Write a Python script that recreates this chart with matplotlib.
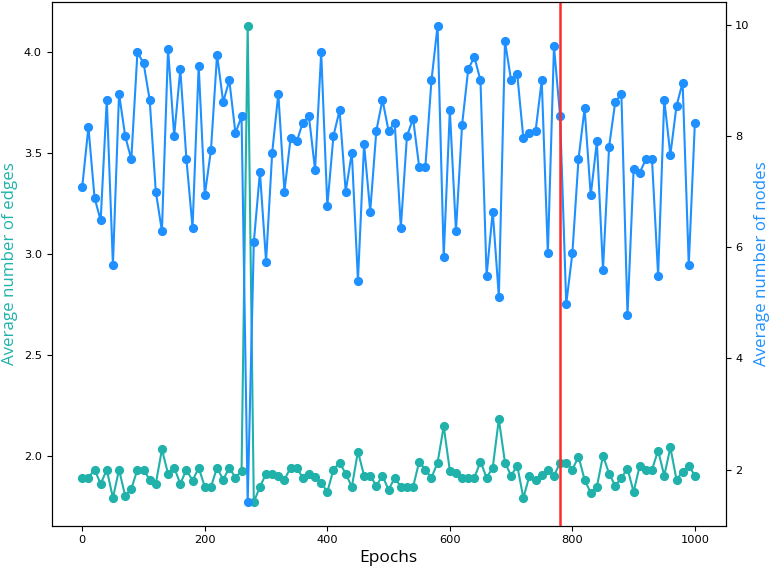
import matplotlib
matplotlib.use("Agg")
import matplotlib.pyplot as plt
import numpy as np

epochs = np.arange(0, 1001, 10)

avg_edges = [
    1.89, 1.89, 1.93, 1.86, 1.93, 1.79, 1.93, 1.80, 1.835, 1.93,
    1.93, 1.88, 1.86, 2.03, 1.91, 1.94, 1.86, 1.93, 1.875, 1.94,
    1.845, 1.845, 1.94, 1.88, 1.94, 1.89, 1.925, 4.13, 1.77, 1.845,
    1.91, 1.91, 1.90, 1.88, 1.94, 1.94, 1.89, 1.91, 1.895, 1.865,
    1.82, 1.93, 1.965, 1.91, 1.845, 2.02, 1.90, 1.90, 1.85, 1.90,
    1.83, 1.89, 1.845, 1.845, 1.845, 1.97, 1.93, 1.89, 1.965, 2.145,
    1.925, 1.915, 1.89, 1.89, 1.89, 1.97, 1.89, 1.94, 2.18, 1.965,
    1.90, 1.95, 1.79, 1.90, 1.88, 1.905, 1.93, 1.90, 1.965, 1.965,
    1.93, 1.995, 1.88, 1.815, 1.845, 2.00, 1.91, 1.85, 1.89, 1.935,
    1.82, 1.95, 1.93, 1.93, 2.025, 1.90, 2.04, 1.88, 1.92, 1.95,
    1.90,
]

avg_nodes = [
    7.09, 8.16, 6.89, 6.48, 8.65, 5.68, 8.76, 8.00, 7.58, 9.50,
    9.31, 8.65, 7.00, 6.29, 9.57, 8.00, 9.20, 7.58, 6.35, 9.26,
    6.94, 7.74, 9.46, 8.61, 9.00, 8.05, 8.35, 1.42, 6.09, 7.35,
    5.74, 7.70, 8.76, 7.00, 7.96, 7.90, 8.24, 8.35, 7.39, 9.50,
    6.74, 8.00, 8.46, 7.00, 7.70, 5.40, 7.85, 6.64, 8.09, 8.65,
    8.09, 8.24, 6.35, 8.00, 8.31, 7.44, 7.44, 9.00, 9.98, 5.83,
    8.46, 6.29, 8.20, 9.20, 9.42, 9.00, 5.49, 6.64, 5.11, 9.70,
    9.00, 9.11, 7.96, 8.05, 8.09, 9.00, 5.89, 9.61, 8.35, 4.98,
    5.89, 7.58, 8.50, 6.93, 7.90, 5.59, 7.81, 8.61, 8.76, 4.78,
    7.40, 7.34, 7.58, 7.58, 5.49, 8.65, 7.66, 8.54, 8.96, 5.68,
    8.24,
]

marker_epoch = 780

edge_color = "#20B2AA"
node_color = "#1E90FF"

fig = plt.figure(figsize=(7.71, 5.69), dpi=100)
ax1 = fig.add_axes([0.067, 0.076, 0.874, 0.9205])
ax2 = ax1.twinx()

ax1.plot(epochs, avg_edges, color=edge_color, marker="o", markersize=5.6, linewidth=1.5)
ax2.plot(epochs, avg_nodes, color=node_color, marker="o", markersize=5.6, linewidth=1.5)
ax2.axvline(marker_epoch, color="#FF2A2A", linewidth=1.8)

label_font = ["Open Sans", "DejaVu Sans"]
ax1.set_xlabel("Epochs", fontsize=12.5, family=label_font, labelpad=3)
ax1.set_ylabel("Average number of edges", color=edge_color, fontsize=12.2, family=label_font, labelpad=4.5)
ax2.set_ylabel("Average number of nodes", color=node_color, fontsize=12.2, family=label_font, labelpad=3)

ax1.set_xticks([0, 200, 400, 600, 800, 1000])
ax1.set_yticks([2.0, 2.5, 3.0, 3.5, 4.0])
ax2.set_yticks([2, 4, 6, 8, 10])
ax1.tick_params(labelsize=8.2)
ax2.tick_params(labelsize=8.2)

fig.savefig("out.png", dpi=100)
